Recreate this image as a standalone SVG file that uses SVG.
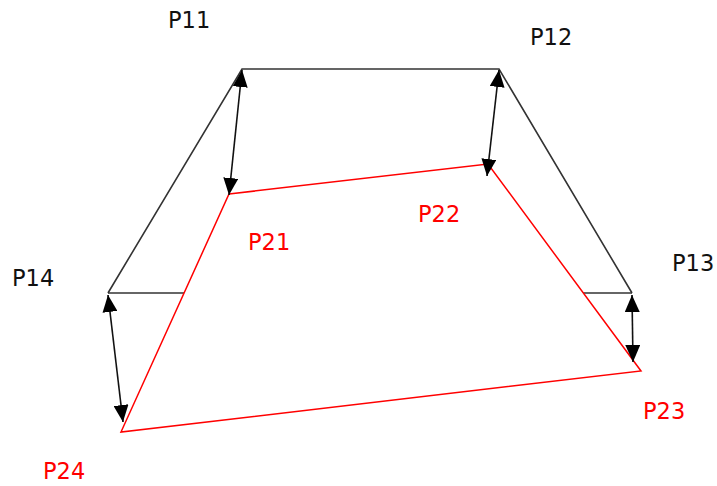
<svg xmlns="http://www.w3.org/2000/svg" width="717" height="486" viewBox="0 0 717 486">
<style>
.blk{fill:none;stroke:#333;stroke-width:1.6}
.red{fill:none;stroke:#ff0000;stroke-width:1.5}
.arr{fill:none;stroke:#111;stroke-width:1.6;marker-start:url(#ah);marker-end:url(#ah)}
text{font-family:"DejaVu Sans",sans-serif;font-size:22.5px}
.lb{fill:#111}
.lr{fill:#ff0000}
</style>
<defs>
<marker id="ah" viewBox="0 0 17 15" refX="17" refY="7.5" markerWidth="17" markerHeight="15" markerUnits="userSpaceOnUse" orient="auto-start-reverse">
<path d="M0,0 L17,7.5 L0,15 Z" fill="#000"/>
</marker>
</defs>
<g id="shapes">
<polyline id="outer" class="blk" points="108,293 242,69 499,69 632,293"/>
<line class="blk" x1="108" y1="293" x2="184" y2="293"/>
<line class="blk" x1="583" y1="293" x2="632" y2="293"/>
<polygon id="inner" class="red" points="229,194 488,164 641,371 121,432"/>
</g>
<g id="connectors">
<line class="arr" x1="242" y1="70" x2="229" y2="195"/>
<line class="arr" x1="499" y1="70" x2="487" y2="176"/>
<line class="arr" x1="108" y1="295" x2="123" y2="422"/>
<line class="arr" x1="632" y1="295" x2="633" y2="362"/>
</g>
<g id="labels">
<text class="lb" x="168" y="28">P11</text>
<text class="lb" x="530" y="45">P12</text>
<text class="lb" x="672" y="271">P13</text>
<text class="lb" x="12" y="286">P14</text>
<text class="lr" x="248" y="250">P21</text>
<text class="lr" x="418" y="222">P22</text>
<text class="lr" x="643" y="419">P23</text>
<text class="lr" x="43" y="479">P24</text>
</g>
</svg>
